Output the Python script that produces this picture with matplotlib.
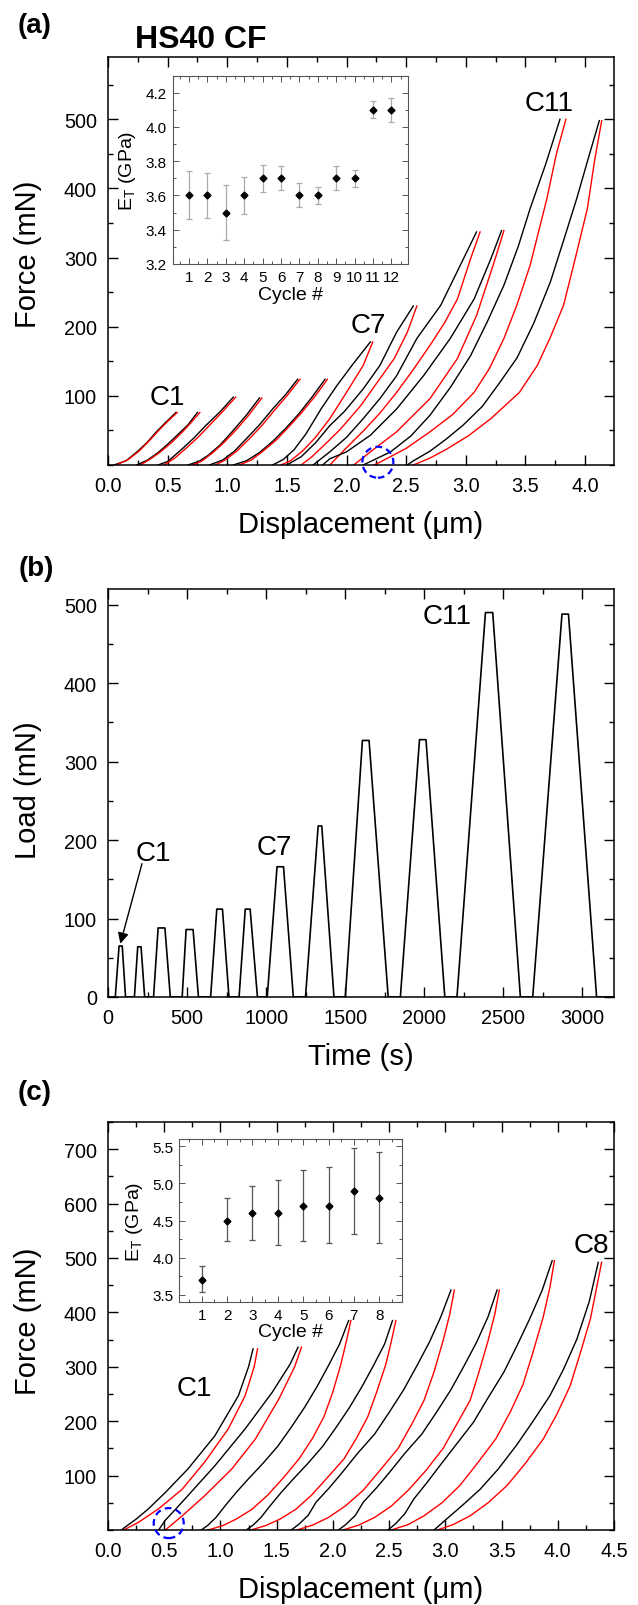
import matplotlib
matplotlib.use('Agg')
import matplotlib.pyplot as plt
from matplotlib.patches import Ellipse
from matplotlib.ticker import MultipleLocator, FormatStrFormatter

plt.rcParams['font.family'] = ['Liberation Sans', 'DejaVu Sans']
plt.rcParams['mathtext.fontset'] = 'custom'
plt.rcParams['mathtext.rm'] = 'Liberation Sans'
plt.rcParams['mathtext.it'] = 'Liberation Sans:italic'

# ---------------- (a) HS40 CF load / unload curves ----------------
a_black_x = [
    [0.05, 0.15, 0.25, 0.33, 0.40, 0.48, 0.57],
    [0.24, 0.33, 0.42, 0.50, 0.58, 0.67, 0.75],
    [0.42, 0.50, 0.62, 0.72, 0.82, 0.94, 1.05],
    [0.67, 0.76, 0.84, 0.94, 1.04, 1.16, 1.27],
    [0.85, 0.96, 1.06, 1.16, 1.27, 1.38, 1.49, 1.59],
    [1.05, 1.16, 1.27, 1.38, 1.49, 1.60, 1.71, 1.82],
    [1.38, 1.47, 1.56, 1.66, 1.79, 1.92, 2.05, 2.20],
    [1.50, 1.62, 1.74, 1.86, 1.98, 2.14, 2.28, 2.42, 2.56],
    [1.72, 1.86, 2.00, 2.14, 2.28, 2.42, 2.59, 2.79, 2.98, 3.09],
    [1.80, 1.86, 2.00, 2.20, 2.42, 2.65, 2.87, 3.07, 3.21, 3.30],
    [2.14, 2.37, 2.54, 2.70, 2.87, 3.04, 3.18, 3.32, 3.44, 3.54, 3.67, 3.79],
    [2.51, 2.56, 2.70, 2.84, 2.98, 3.14, 3.28, 3.43, 3.57, 3.71, 3.83, 3.93, 4.03, 4.12],
]
a_black_f = [
    [0, 6, 20, 33, 47, 61, 76],
    [0, 7, 18, 30, 43, 58, 76],
    [0, 5, 23, 39, 57, 77, 98],
    [0, 5, 14, 29, 48, 72, 97],
    [0, 7, 20, 38, 58, 81, 102, 124],
    [0, 6, 18, 34, 53, 74, 98, 124],
    [0, 8, 22, 45, 82, 115, 145, 178],
    [0, 12, 32, 57, 77, 110, 144, 192, 230],
    [0, 19, 40, 67, 96, 129, 183, 231, 298, 337],
    [0, 9, 19, 43, 81, 130, 183, 240, 298, 339],
    [0, 19, 42, 72, 112, 158, 207, 260, 316, 371, 435, 500],
    [0, 6, 20, 38, 58, 85, 118, 155, 205, 265, 330, 385, 445, 498],
]
a_red_x = [
    [0.58, 0.50, 0.42, 0.34, 0.26, 0.17, 0.07],
    [0.77, 0.70, 0.62, 0.53, 0.44, 0.35, 0.27],
    [1.07, 0.96, 0.86, 0.76, 0.66, 0.56, 0.47],
    [1.29, 1.18, 1.07, 0.97, 0.88, 0.79, 0.71],
    [1.61, 1.50, 1.39, 1.29, 1.18, 1.08, 0.98, 0.90],
    [1.84, 1.73, 1.62, 1.51, 1.41, 1.30, 1.20, 1.10],
    [2.22, 2.14, 2.00, 1.86, 1.74, 1.63, 1.53, 1.45],
    [2.59, 2.51, 2.40, 2.26, 2.12, 1.95, 1.82, 1.71, 1.62],
    [3.12, 3.04, 2.93, 2.82, 2.70, 2.56, 2.42, 2.28, 2.14, 2.00, 1.86],
    [3.32, 3.23, 3.09, 2.93, 2.70, 2.42, 2.20, 2.06],
    [3.84, 3.76, 3.68, 3.54, 3.43, 3.32, 3.20, 3.07, 2.89, 2.70, 2.50, 2.28, 2.23],
    [4.14, 4.08, 4.02, 3.92, 3.82, 3.71, 3.60, 3.45, 3.21, 3.02, 2.84, 2.70, 2.56],
]
a_red_f = [
    [76, 63, 49, 34, 20, 8, 0],
    [76, 62, 47, 32, 19, 8, 0],
    [98, 77, 59, 41, 25, 10, 0],
    [97, 72, 50, 32, 18, 6, 0],
    [124, 100, 78, 57, 37, 20, 7, 0],
    [124, 98, 75, 54, 36, 20, 7, 0],
    [178, 144, 105, 67, 40, 20, 6, 0],
    [230, 192, 154, 120, 86, 52, 30, 12, 0],
    [337, 298, 240, 205, 173, 138, 105, 75, 49, 25, 0],
    [339, 289, 216, 154, 96, 48, 19, 0],
    [500, 450, 385, 289, 232, 183, 140, 105, 73, 48, 24, 4, 0],
    [498, 440, 371, 300, 231, 185, 144, 105, 67, 42, 23, 10, 0],
]

# inset (a): tangent modulus per cycle
a_cycle = [1, 2, 3, 4, 5, 6, 7, 8, 9, 10, 11, 12]
a_et = [3.6, 3.6, 3.5, 3.6, 3.7, 3.7, 3.6, 3.6, 3.7, 3.7, 4.1, 4.1]
a_et_lo = [3.46, 3.47, 3.34, 3.49, 3.62, 3.63, 3.53, 3.55, 3.63, 3.65, 4.05, 4.03]
a_et_hi = [3.74, 3.73, 3.66, 3.71, 3.78, 3.77, 3.67, 3.65, 3.77, 3.75, 4.15, 4.17]

# ---------------- (b) load history ----------------
b_start = [46, 167, 288, 469, 649, 829, 1007, 1249, 1501, 1849, 2207, 2686]
b_hold_on = [70, 188, 317, 494, 688, 868, 1069, 1329, 1609, 1970, 2387, 2871]
b_hold_off = [90, 209, 360, 538, 724, 899, 1110, 1352, 1651, 2011, 2433, 2912]
b_end = [111, 232, 394, 572, 765, 945, 1172, 1429, 1772, 2130, 2608, 3090]
b_peak = [65, 64, 88, 86, 112, 112, 166, 218, 327, 328, 490, 488]

# ---------------- (c) load / unload curves ----------------
c_black_x = [
    [0.12, 0.15, 0.25, 0.36, 0.51, 0.71, 0.95, 1.16, 1.25, 1.29],
    [0.45, 0.51, 0.60, 0.71, 0.95, 1.22, 1.46, 1.62, 1.69],
    [0.83, 0.89, 0.96, 1.04, 1.14, 1.24, 1.38, 1.51, 1.63, 1.75, 1.86, 1.96, 2.06, 2.14],
    [1.23, 1.29, 1.36, 1.44, 1.54, 1.64, 1.78, 1.91, 2.03, 2.15, 2.26, 2.36, 2.46, 2.53],
    [1.63, 1.70, 1.78, 1.85, 1.97, 2.08, 2.22, 2.37, 2.50, 2.63, 2.75, 2.86, 2.96, 3.05],
    [2.05, 2.12, 2.20, 2.27, 2.39, 2.50, 2.64, 2.79, 2.92, 3.05, 3.17, 3.28, 3.38, 3.46],
    [2.49, 2.56, 2.64, 2.72, 2.84, 2.95, 3.10, 3.25, 3.38, 3.52, 3.64, 3.75, 3.86, 3.95],
    [2.90, 3.01, 3.15, 3.31, 3.47, 3.63, 3.78, 3.93, 4.05, 4.17, 4.28, 4.36],
]
c_black_f = [
    [0, 5, 20, 39, 69, 112, 173, 247, 300, 333],
    [0, 18, 38, 63, 118, 186, 253, 305, 336],
    [0, 9, 23, 44, 69, 92, 123, 154, 189, 226, 264, 302, 342, 385],
    [0, 9, 23, 44, 69, 92, 123, 154, 189, 226, 264, 302, 342, 385],
    [0, 11, 27, 51, 78, 105, 141, 176, 216, 258, 303, 346, 392, 441],
    [0, 11, 27, 51, 78, 105, 141, 176, 216, 258, 303, 346, 392, 441],
    [0, 12, 30, 57, 88, 118, 158, 198, 243, 290, 340, 388, 440, 495],
    [0, 20, 45, 75, 112, 155, 200, 247, 295, 351, 420, 492],
]
c_red_x = [
    [1.33, 1.30, 1.22, 1.07, 0.86, 0.66, 0.45, 0.27, 0.14],
    [1.72, 1.66, 1.52, 1.31, 1.10, 0.86, 0.66, 0.51],
    [2.16, 2.12, 2.07, 2.00, 1.92, 1.82, 1.70, 1.56, 1.42, 1.28, 1.14, 1.02, 0.89],
    [2.56, 2.52, 2.47, 2.39, 2.31, 2.21, 2.10, 1.95, 1.81, 1.67, 1.53, 1.40, 1.27],
    [3.08, 3.04, 2.98, 2.90, 2.81, 2.70, 2.58, 2.42, 2.27, 2.11, 1.96, 1.82, 1.68],
    [3.48, 3.44, 3.38, 3.30, 3.22, 3.10, 2.98, 2.83, 2.67, 2.52, 2.37, 2.23, 2.09],
    [3.97, 3.93, 3.87, 3.78, 3.69, 3.58, 3.45, 3.29, 3.13, 2.97, 2.81, 2.67, 2.52],
    [4.39, 4.34, 4.29, 4.20, 4.11, 3.99, 3.87, 3.71, 3.55, 3.38, 3.22, 3.07, 2.93],
]
c_red_f = [
    [333, 300, 247, 186, 125, 75, 39, 14, 0],
    [336, 300, 241, 167, 112, 63, 26, 0],
    [385, 347, 304, 254, 208, 169, 131, 96, 64, 38, 20, 8, 0],
    [385, 347, 304, 254, 208, 169, 131, 96, 64, 38, 20, 8, 0],
    [441, 397, 348, 291, 238, 194, 150, 110, 73, 44, 23, 9, 0],
    [441, 397, 348, 291, 238, 194, 150, 110, 73, 44, 23, 9, 0],
    [495, 446, 391, 327, 267, 218, 168, 124, 82, 50, 26, 10, 0],
    [492, 440, 388, 325, 265, 212, 167, 122, 82, 50, 26, 10, 0],
]

# inset (c)
c_cycle = [1, 2, 3, 4, 5, 6, 7, 8]
c_et = [3.7, 4.5, 4.6, 4.6, 4.7, 4.7, 4.9, 4.8]
c_et_lo = [3.54, 4.23, 4.24, 4.17, 4.23, 4.19, 4.32, 4.19]
c_et_hi = [3.88, 4.80, 4.97, 5.04, 5.18, 5.22, 5.48, 5.42]

# ---------------- figure ----------------
W, H = 638, 1606
fig = plt.figure(figsize=(W / 100, H / 100), dpi=100, facecolor='white')


def box(l, t, r, b):
    return [l / W, 1 - b / H, (r - l) / W, (b - t) / H]


def style_main(ax):
    for s in ax.spines.values():
        s.set_linewidth(1.1)
    ax.tick_params(which='both', direction='in', top=True, right=True,
                   width=1.0, labelsize=14.3, pad=8)
    ax.tick_params(which='major', length=7)
    ax.tick_params(which='minor', length=3.5)


def style_inset(ax):
    for s in ax.spines.values():
        s.set_linewidth(0.8)
        s.set_edgecolor('#555555')
    ax.tick_params(which='both', direction='in', top=True, right=True,
                   width=0.7, color='#555555', labelsize=11, pad=4)
    ax.tick_params(which='major', length=4)
    ax.tick_params(which='minor', length=2)


def dashed_circle(ax, x, y, r_px):
    x0, x1 = ax.get_xlim()
    y0, y1 = ax.get_ylim()
    bb = ax.get_position()
    e = Ellipse((x, y), 2 * r_px * (x1 - x0) / (bb.width * W),
                2 * r_px * (y1 - y0) / (bb.height * H),
                fill=False, ec='blue', ls=(0, (3, 2)), lw=1.6,
                clip_on=False, zorder=6)
    ax.add_patch(e)


# ---- panel (a)
ax_a = fig.add_axes(box(108, 58, 614, 466))
for bx, bf, rx, rf in zip(a_black_x, a_black_f, a_red_x, a_red_f):
    ax_a.plot(bx, bf, color='black', lw=1.0)
    ax_a.plot(rx, rf, color='red', lw=1.0)
ax_a.set_xlim(0, 4.243)
ax_a.set_ylim(0, 590)
ax_a.set_xticks([0, 0.5, 1.0, 1.5, 2.0, 2.5, 3.0, 3.5, 4.0])
ax_a.set_xticklabels(['0.0', '0.5', '1.0', '1.5', '2.0', '2.5', '3.0', '3.5', '4.0'])
ax_a.set_yticks([100, 200, 300, 400, 500])
ax_a.xaxis.set_minor_locator(MultipleLocator(0.25))
ax_a.yaxis.set_minor_locator(MultipleLocator(50))
style_main(ax_a)
ax_a.set_xlabel('Displacement (μm)', fontsize=21, va='center')
ax_a.xaxis.set_label_coords(0.5, -0.145)
ax_a.set_ylabel('Force (mN)', fontsize=21, va='center')
ax_a.yaxis.set_label_coords(-0.158, 0.52)
ax_a.text(0.495, 99, 'C1', fontsize=20, ha='center', va='center')
ax_a.text(2.185, 203, 'C7', fontsize=20, ha='center', va='center')
ax_a.text(3.70, 524, 'C11', fontsize=20, ha='center', va='center')
dashed_circle(ax_a, 2.263, 4, 15.5)

ins_a = fig.add_axes(box(172.5, 76.5, 408, 265), zorder=5)
ins_a.errorbar(a_cycle, a_et,
               yerr=[[v - lo for v, lo in zip(a_et, a_et_lo)],
                     [hi - v for v, hi in zip(a_et, a_et_hi)]],
               fmt='D', color='black', ms=3.5, ecolor='#aaaaaa',
               elinewidth=0.9, capsize=2, capthick=0.9)
ins_a.set_xlim(0.1, 12.9)
ins_a.set_ylim(3.2, 4.3)
ins_a.set_xticks(a_cycle)
ins_a.set_yticks([3.2, 3.4, 3.6, 3.8, 4.0, 4.2])
ins_a.yaxis.set_major_formatter(FormatStrFormatter('%.1f'))
ins_a.yaxis.set_minor_locator(MultipleLocator(0.1))
ins_a.xaxis.set_minor_locator(MultipleLocator(0.5))
style_inset(ins_a)
ins_a.set_xlabel('Cycle #', fontsize=14, va='center')
ins_a.xaxis.set_label_coords(0.5, -0.164)
ins_a.set_ylabel(r'E$_{\mathrm{T}}$ (GPa)', fontsize=14, va='center')
ins_a.yaxis.set_label_coords(-0.19, 0.5)

# ---- panel (b)
b_t, b_load = [0], [0]
for s, on, off, e, p in zip(b_start, b_hold_on, b_hold_off, b_end, b_peak):
    b_t += [s, on, off, e]
    b_load += [0, p, p, 0]
b_t.append(3200)
b_load.append(0)

ax_b = fig.add_axes(box(108, 590, 614, 998))
ax_b.plot(b_t, b_load, color='black', lw=1.2)
ax_b.set_xlim(0, 3200)
ax_b.set_ylim(0, 520)
ax_b.set_xticks([0, 500, 1000, 1500, 2000, 2500, 3000])
ax_b.set_yticks([0, 100, 200, 300, 400, 500])
ax_b.xaxis.set_minor_locator(MultipleLocator(250))
ax_b.yaxis.set_minor_locator(MultipleLocator(50))
style_main(ax_b)
ax_b.set_xlabel('Time (s)', fontsize=21, va='center')
ax_b.xaxis.set_label_coords(0.5, -0.145)
ax_b.set_ylabel('Load (mN)', fontsize=21, va='center')
ax_b.yaxis.set_label_coords(-0.158, 0.51)
ax_b.text(288, 184, 'C1', fontsize=20, ha='center', va='center')
ax_b.annotate('', xy=(78, 68), xytext=(215, 170),
              arrowprops=dict(arrowstyle='-|>', color='black', lw=1.0,
                              mutation_scale=16, shrinkA=0, shrinkB=0))
ax_b.text(1050, 191, 'C7', fontsize=20, ha='center', va='center')
ax_b.text(2142, 485, 'C11', fontsize=20, ha='center', va='center')

# ---- panel (c)
ax_c = fig.add_axes(box(108, 1123, 614, 1531))
for bx, bf, rx, rf in zip(c_black_x, c_black_f, c_red_x, c_red_f):
    ax_c.plot(bx, bf, color='black', lw=1.0)
    ax_c.plot(rx, rf, color='red', lw=1.0)
ax_c.set_xlim(0, 4.5)
ax_c.set_ylim(0, 750)
ax_c.set_xticks([0, 0.5, 1.0, 1.5, 2.0, 2.5, 3.0, 3.5, 4.0, 4.5])
ax_c.set_xticklabels(['0.0', '0.5', '1.0', '1.5', '2.0', '2.5', '3.0', '3.5', '4.0', '4.5'])
ax_c.set_yticks([100, 200, 300, 400, 500, 600, 700])
ax_c.xaxis.set_minor_locator(MultipleLocator(0.25))
ax_c.yaxis.set_minor_locator(MultipleLocator(50))
style_main(ax_c)
ax_c.set_xlabel('Displacement (μm)', fontsize=21, va='center')
ax_c.xaxis.set_label_coords(0.5, -0.145)
ax_c.set_ylabel('Force (mN)', fontsize=21, va='center')
ax_c.yaxis.set_label_coords(-0.158, 0.515)
ax_c.text(0.77, 261, 'C1', fontsize=20, ha='center', va='center')
ax_c.text(4.295, 524, 'C8', fontsize=20, ha='center', va='center')
dashed_circle(ax_c, 0.54, 12.7, 15)

ins_c = fig.add_axes(box(179, 1140, 402, 1303), zorder=5)
ins_c.errorbar(c_cycle, c_et,
               yerr=[[v - lo for v, lo in zip(c_et, c_et_lo)],
                     [hi - v for v, hi in zip(c_et, c_et_hi)]],
               fmt='D', color='black', ms=3.5, ecolor='#555555',
               elinewidth=0.9, capsize=2.5, capthick=0.9)
ins_c.set_xlim(0.1, 8.9)
ins_c.set_ylim(3.4, 5.6)
ins_c.set_xticks(c_cycle)
ins_c.set_yticks([3.5, 4.0, 4.5, 5.0, 5.5])
ins_c.yaxis.set_minor_locator(MultipleLocator(0.25))
ins_c.xaxis.set_minor_locator(MultipleLocator(0.5))
style_inset(ins_c)
ins_c.set_xlabel('Cycle #', fontsize=14, va='center')
ins_c.xaxis.set_label_coords(0.5, -0.178)
ins_c.set_ylabel(r'E$_{\mathrm{T}}$ (GPa)', fontsize=14, va='center')
ins_c.yaxis.set_label_coords(-0.2, 0.5)

# panel letters and title
fig.text(35 / W, 1 - 26 / H, '(a)', fontsize=20, fontweight='bold', ha='center', va='center')
fig.text(36 / W, 1 - 569 / H, '(b)', fontsize=20, fontweight='bold', ha='center', va='center')
fig.text(35 / W, 1 - 1093 / H, '(c)', fontsize=20, fontweight='bold', ha='center', va='center')
fig.text(201 / W, 1 - 40.5 / H, 'HS40 CF', fontsize=23, fontweight='bold', ha='center', va='center')

fig.savefig('out.png', dpi=100, facecolor='white')
